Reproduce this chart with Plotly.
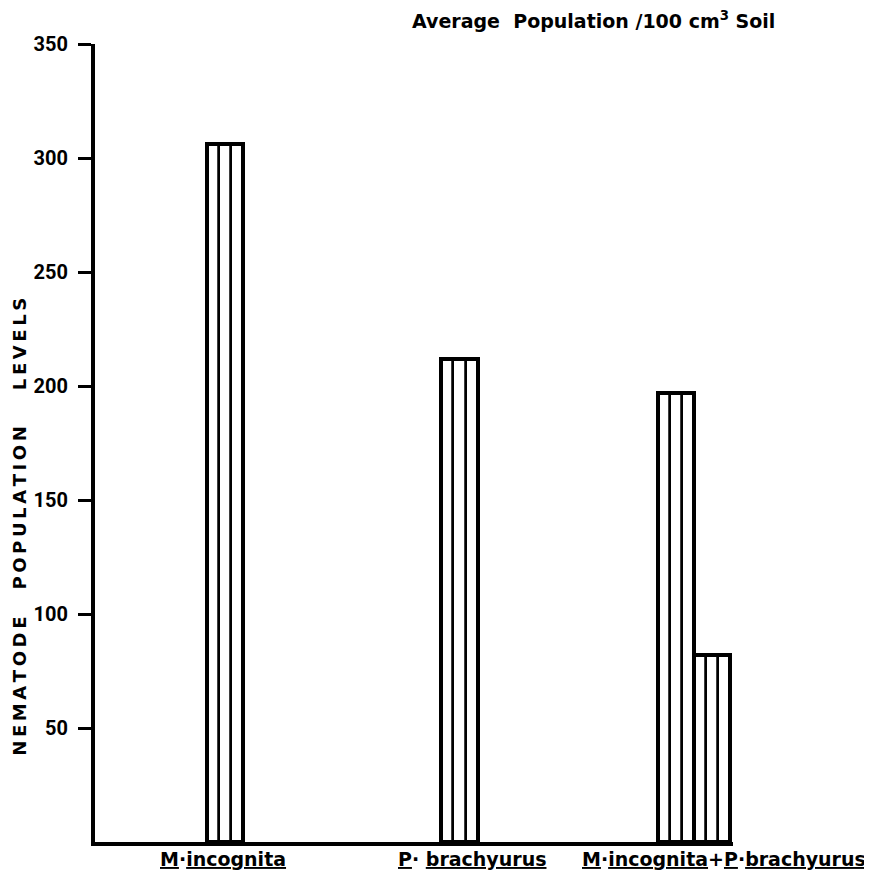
import plotly.graph_objects as go

# ---- data ----
categories = ["M·incognita", "P· brachyurus", "M·incognita+P·brachyurus"]
category_labels = ["<u>M</u>·<u>incognita</u>",
                   "<u>P</u>· <u>brachyurus</u>",
                   "<u>M</u>·<u>incognita</u>+<u>P</u>·<u>brachyurus</u>"]
m_incognita = [306, None, 197]
p_brachyurus = [None, 212, 82]
y_tickvals = [50, 100, 150, 200, 250, 300, 350]
y_ticktext = ["50", "100", "150", "200", "250", "300", "350"]

FONT = "DejaVu Sans"
TICK_FONT = "Roboto"
BAR_W = 0.155
N_STRIPES = 3

fig = go.Figure()

series = [m_incognita, p_brachyurus]
pos = list(range(1, len(categories) + 1))

for si, vals in enumerate(series):
    centers, heights = [], []
    for ci, v in enumerate(vals):
        if v is None:
            continue
        present_idx = [k for k, s in enumerate(series) if s[ci] is not None]
        n = len(present_idx)
        idx = present_idx.index(si)
        c = pos[ci] + (idx - (n - 1) / 2) * BAR_W
        centers.append(c)
        heights.append(v)
    # striped interior: narrow sub-bars
    sub_x, sub_y = [], []
    for c, h in zip(centers, heights):
        for k in range(N_STRIPES):
            sub_x.append(c - BAR_W / 2 + (k + 0.5) * BAR_W / N_STRIPES)
            sub_y.append(h)
    fig.add_trace(go.Bar(x=sub_x, y=sub_y, width=BAR_W / N_STRIPES,
                         marker=dict(color="white", line=dict(color="black", width=2.5)),
                         showlegend=False, hoverinfo="skip"))
    # outer outline
    fig.add_trace(go.Bar(x=centers, y=heights, width=BAR_W,
                         marker=dict(color="rgba(0,0,0,0)", line=dict(color="black", width=4)),
                         showlegend=False, hoverinfo="skip"))

label_x = [0.991, 2.053, 3.128]
for lx, lab in zip(label_x, category_labels):
    fig.add_annotation(x=lx, xref="x", y=-0.021, yref="paper", text=lab,
                       showarrow=False, xanchor="center", yanchor="middle",
                       font=dict(family=FONT, size=19, color="black", weight="bold"))

fig.add_annotation(x=0.782, xref="paper", y=1.030, yref="paper",
                   text="Average\u00a0 Population /100 cm<sup>3</sup> Soil",
                   showarrow=False, xanchor="center", yanchor="middle",
                   font=dict(family=FONT, size=19, color="black", weight="bold"))

ts = "\u2009"
def spaced(w):
    return ts.join(list(w))
ytitle = spaced("NEMATODE") + "\u2003\u2002" + spaced("POPULATION") + "\u2003\u2003" + spaced("LEVELS")
fig.add_annotation(x=-0.1176, xref="paper", y=0.395, yref="paper", text=ytitle,
                   textangle=-90, showarrow=False, xanchor="center", yanchor="middle",
                   font=dict(family=FONT, size=18, color="black", weight="bold"))

fig.update_layout(
    width=864, height=863,
    margin=dict(l=87, r=139, t=36, b=29),
    paper_bgcolor="white", plot_bgcolor="white",
    barmode="overlay", bargap=0,
    xaxis=dict(range=[0.446, 3.166], showgrid=False, zeroline=False,
               showticklabels=False, ticks="", showline=True,
               linecolor="black", linewidth=4),
    yaxis=dict(range=[0, 350], showgrid=False, zeroline=False,
               tickvals=y_tickvals, ticktext=y_ticktext, ticks="outside",
               ticklen=13, tickwidth=2.5, tickcolor="black",
               ticklabelstandoff=6,
               tickfont=dict(family=TICK_FONT, size=20, color="black", weight="bold"),
               showline=True, linecolor="black", linewidth=4),
)

fig.write_html("out.html")
